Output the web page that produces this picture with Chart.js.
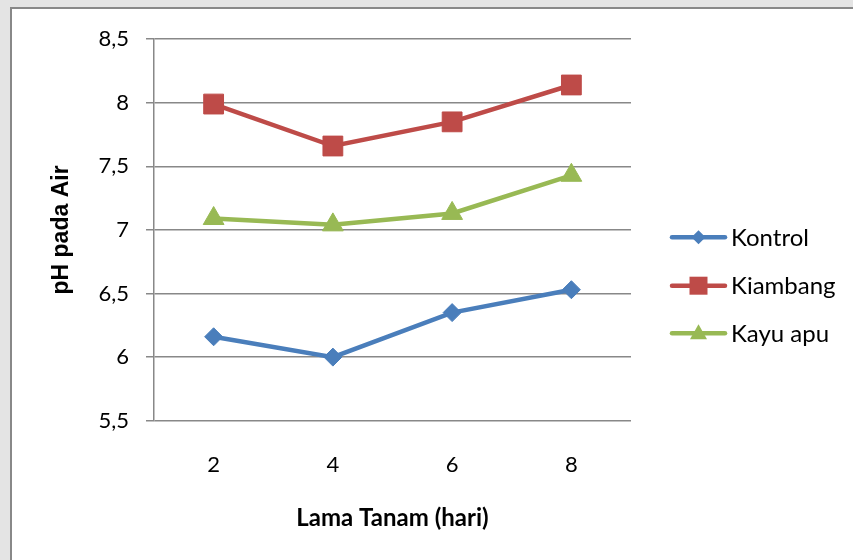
<!DOCTYPE html>
<html>
<head>
<meta charset="utf-8">
<script src="https://cdn.jsdelivr.net/npm/chart.js@4.4.0/dist/chart.umd.min.js"></script>
<style>
  body { margin: 0; background: #e4e4e4; width: 853px; height: 560px; overflow: hidden; position: relative; }
  #box { position: absolute; left: 10px; top: 7px; width: 843px; height: 553px; background: #fff;
         border-left: 2px solid #888; border-top: 2px solid #888; box-sizing: border-box; }
  canvas { display: block; }
</style>
</head>
<body>
<div id="box"><canvas id="chart" width="841" height="551"></canvas></div>
<script>
// Data
const categories = ['2', '4', '6', '8'];
const kontrol = [6.16, 6.0, 6.35, 6.53];
const kiambang = [7.99, 7.66, 7.85, 8.14];
const kayuApu = [7.09, 7.04, 7.13, 7.43];
const yTickLabels = ['5,5', '6', '6,5', '7', '7,5', '8', '8,5'];

const seriesNames = ['Kontrol', 'Kiambang', 'Kayu apu'];
const colors = ['#4a7ebb', '#be4b48', '#98b954'];
const styles = ['rectRot', 'rect', 'triangle'];
const radii = [9, 14, 12];

const FONT = 'Lato, "Open Sans", sans-serif';
const gridColor = '#888';

function legendMarker(ctx, style, x, y, color) {
    ctx.fillStyle = color;
    ctx.beginPath();
    if (style === 'rectRot') {
        ctx.moveTo(x - 7, y); ctx.lineTo(x, y - 7); ctx.lineTo(x + 7, y); ctx.lineTo(x, y + 7);
    } else if (style === 'rect') {
        ctx.rect(x - 9, y - 9, 18, 18);
    } else {
        ctx.moveTo(x, y - 9); ctx.lineTo(x + 8.5, y + 6); ctx.lineTo(x - 8.5, y + 6);
    }
    ctx.closePath();
    ctx.fill();
}

// Excel-style legend: line with marker, text to the right
const sideLegend = {
    id: 'sideLegend',
    afterDraw(chart) {
        const ctx = chart.ctx;
        const rows = [228.3, 276.7, 324.3];
        ctx.save();
        seriesNames.forEach((name, i) => {
            const y = rows[i];
            ctx.strokeStyle = colors[i];
            ctx.lineWidth = 4.5;
            ctx.lineCap = 'round';
            ctx.beginPath();
            ctx.moveTo(660, y);
            ctx.lineTo(713, y);
            ctx.stroke();
            legendMarker(ctx, styles[i], 686.5, y, colors[i]);
            ctx.fillStyle = '#000';
            ctx.font = '24px ' + FONT;
            ctx.textBaseline = 'middle';
            ctx.textAlign = 'left';
            ctx.fillText(name, 719, y + 1);
        });
        ctx.restore();
    }
};

const datasets = [kontrol, kiambang, kayuApu].map((values, i) => ({
    label: seriesNames[i],
    data: values,
    borderColor: colors[i],
    backgroundColor: colors[i],
    borderWidth: 4.5,
    pointStyle: styles[i],
    pointRadius: radii[i],
    pointBorderWidth: 1,
    pointBackgroundColor: colors[i],
    pointBorderColor: colors[i],
    tension: 0
}));

new Chart(document.getElementById('chart'), {
    type: 'line',
    data: { labels: categories, datasets: datasets },
    options: {
        responsive: false,
        animation: false,
        devicePixelRatio: 1,
        layout: { padding: { left: 0, top: 27.7, right: 222, bottom: 0 } },
        plugins: { legend: { display: false }, tooltip: { enabled: false } },
        scales: {
            x: {
                offset: true,
                grid: { display: false, drawTicks: false },
                border: { display: false },
                ticks: { color: '#000', font: { family: FONT, size: 22 }, padding: 31 },
                title: {
                    display: true,
                    text: 'Lama Tanam (hari)',
                    color: '#000',
                    font: { family: FONT, size: 24, weight: 'bold' },
                    padding: { top: 0, bottom: 27.6 }
                },
                afterFit(scale) { scale.height = 139.3; }
            },
            y: {
                min: 5.5,
                max: 8.5,
                grid: { color: gridColor, lineWidth: 1.5, tickLength: 8, drawTicks: true },
                border: { display: true, color: gridColor, width: 1.5 },
                ticks: {
                    stepSize: 0.5,
                    color: '#000',
                    font: { family: FONT, size: 22 },
                    padding: 17,
                    callback: (v, i) => yTickLabels[i]
                },
                title: {
                    display: true,
                    text: 'pH pada Air',
                    color: '#000',
                    font: { family: '"Liberation Sans", Arial, sans-serif', size: 23, weight: 'bold' },
                    padding: { top: 36, bottom: 0 }
                },
                afterFit(scale) { scale.width = 142; }
            }
        }
    },
    plugins: [sideLegend]
});
</script>
</body>
</html>
